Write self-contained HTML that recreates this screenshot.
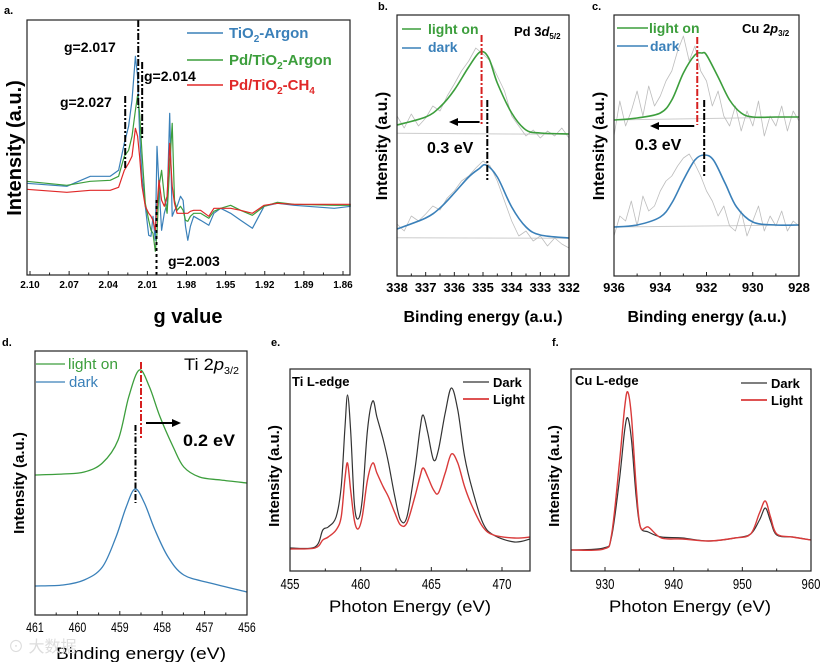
<!DOCTYPE html>
<html><head><meta charset="utf-8">
<style>
html,body{margin:0;padding:0;background:#fff;}
svg{display:block;font-family:"Liberation Sans",Arial,sans-serif;}
.b{font-weight:bold;}
</style></head>
<body>
<svg id="fig" width="822" height="662" viewBox="0 0 822 662" xmlns="http://www.w3.org/2000/svg">
<rect width="822" height="662" fill="#fff"/>
<!-- panel labels -->
<text x="4" y="14" font-size="11" class="b">a.</text>
<text x="378" y="10" font-size="11" class="b">b.</text>
<text x="592" y="10" font-size="11" class="b">c.</text>
<text x="2" y="346" font-size="11" class="b">d.</text>
<text x="271" y="346" font-size="11" class="b">e.</text>
<text x="552" y="346" font-size="11" class="b">f.</text>

<!-- axis titles -->
<text x="188" y="323" font-size="20" class="b" text-anchor="middle">g value</text>
<text transform="translate(21,148) rotate(-90)" font-size="20" class="b" text-anchor="middle">Intensity (a.u.)</text>
<text x="483" y="322" font-size="16" class="b" text-anchor="middle">Binding energy (a.u.)</text>
<text transform="translate(387,146) rotate(-90)" font-size="16" class="b" text-anchor="middle">Intensity (a.u.)</text>
<text x="707" y="322" font-size="16" class="b" text-anchor="middle">Binding energy (a.u.)</text>
<text transform="translate(604,146) rotate(-90)" font-size="16" class="b" text-anchor="middle">Intensity (a.u.)</text>
<text x="141" y="659" font-size="17" text-anchor="middle" textLength="170" lengthAdjust="spacingAndGlyphs">Binding energy (eV)</text>
<text transform="translate(24,483) rotate(-90)" font-size="15" class="b" text-anchor="middle">Intensity (a.u.)</text>
<text x="410" y="612" font-size="17" text-anchor="middle" textLength="162" lengthAdjust="spacingAndGlyphs">Photon Energy (eV)</text>
<text transform="translate(279,476) rotate(-90)" font-size="15" class="b" text-anchor="middle">Intensity (a.u.)</text>
<text x="690" y="612" font-size="17" text-anchor="middle" textLength="162" lengthAdjust="spacingAndGlyphs">Photon Energy (eV)</text>
<text transform="translate(559,476) rotate(-90)" font-size="15" class="b" text-anchor="middle">Intensity (a.u.)</text>

<!-- panel a annotations -->
<text x="64" y="52" font-size="14" class="b">g=2.017</text>
<text x="144" y="81" font-size="14" class="b">g=2.014</text>
<text x="60" y="107" font-size="14" class="b">g=2.027</text>
<text x="168" y="266" font-size="14" class="b">g=2.003</text>
<g font-size="15" class="b">
<line x1="187" y1="33" x2="223" y2="33" stroke="#3a80b9" stroke-width="1.5"/>
<text x="229" y="38" fill="#3a80b9">TiO<tspan font-size="10" dy="4">2</tspan><tspan dy="-4">-Argon</tspan></text>
<line x1="187" y1="60" x2="223" y2="60" stroke="#3c9e3c" stroke-width="1.5"/>
<text x="229" y="65" fill="#3c9e3c">Pd/TiO<tspan font-size="10" dy="4">2</tspan><tspan dy="-4">-Argon</tspan></text>
<line x1="187" y1="85" x2="223" y2="85" stroke="#e02828" stroke-width="1.5"/>
<text x="229" y="90" fill="#e02828">Pd/TiO<tspan font-size="10" dy="4">2</tspan><tspan dy="-4">-CH</tspan><tspan font-size="10" dy="4">4</tspan></text>
</g>
<!-- panel b annotations -->
<g font-size="14" class="b">
<line x1="402" y1="29" x2="421" y2="29" stroke="#3c9e3c" stroke-width="1.5"/>
<text x="428" y="34" fill="#3c9e3c">light on</text>
<line x1="402" y1="48" x2="421" y2="48" stroke="#3a80b9" stroke-width="1.5"/>
<text x="428" y="52" fill="#3a80b9">dark</text>
</g>
<text x="514" y="36" font-size="13" class="b">Pd 3<tspan font-style="italic">d</tspan><tspan font-size="8" dy="3">5/2</tspan></text>
<text x="427" y="153" font-size="16" class="b">0.3 eV</text>
<!-- panel c annotations -->
<g font-size="14" class="b">
<line x1="617" y1="28" x2="648" y2="28" stroke="#3c9e3c" stroke-width="1.5"/>
<text x="649" y="33" fill="#3c9e3c">light on</text>
<line x1="617" y1="46" x2="648" y2="46" stroke="#3a80b9" stroke-width="1.5"/>
<text x="650" y="51" fill="#3a80b9">dark</text>
</g>
<text x="742" y="33" font-size="13" class="b">Cu 2<tspan font-style="italic">p</tspan><tspan font-size="8" dy="3">3/2</tspan></text>
<text x="635" y="150" font-size="16" class="b">0.3 eV</text>
<!-- panel d annotations -->
<g font-size="15">
<line x1="36" y1="364" x2="65" y2="364" stroke="#3c9e3c" stroke-width="1.3"/>
<text x="68" y="369" fill="#3c9e3c" textLength="50" lengthAdjust="spacingAndGlyphs">light on</text>
<line x1="36" y1="382" x2="65" y2="382" stroke="#3a80b9" stroke-width="1.3"/>
<text x="69" y="387" fill="#3a80b9" textLength="29" lengthAdjust="spacingAndGlyphs">dark</text>
</g>
<text x="184" y="370" font-size="17" textLength="55" lengthAdjust="spacingAndGlyphs">Ti 2<tspan font-style="italic">p</tspan><tspan font-size="10" dy="4">3/2</tspan></text>
<text x="183" y="446" font-size="17" class="b" textLength="52" lengthAdjust="spacingAndGlyphs">0.2 eV</text>
<!-- panel e/f annotations -->
<text x="292" y="386" font-size="13" class="b">Ti L-edge</text>
<g font-size="13" class="b">
<line x1="463" y1="382" x2="489" y2="382" stroke="#333" stroke-width="1.3"/>
<text x="493" y="387">Dark</text>
<line x1="463" y1="399" x2="489" y2="399" stroke="#d93a3a" stroke-width="1.8"/>
<text x="493" y="404">Light</text>
</g>
<text x="575" y="385" font-size="13" class="b">Cu L-edge</text>
<g font-size="13" class="b">
<line x1="741" y1="383" x2="767" y2="383" stroke="#333" stroke-width="1.3"/>
<text x="771" y="388">Dark</text>
<line x1="741" y1="400" x2="767" y2="400" stroke="#d93a3a" stroke-width="1.8"/>
<text x="771" y="405">Light</text>
</g>
<text x="8" y="652" font-size="16" fill="#ddd" font-family="'Liberation Sans','Noto Sans CJK SC',sans-serif">⊙ 大数据</text>
</svg>
<script>
// ===== Panel a data (EPR) =====
const aG = [2.1026,2.0718,2.0538,2.0385,2.0321,2.0277,2.0244,2.0218,2.0192,2.0175,2.016,2.0141,2.0116,2.009,2.0072,2.0057,2.0039,2.0026,2.0011,1.9991,1.997,1.9949,1.9929,1.991,1.9892,1.9872,1.9846,1.9826,1.9808,1.979,1.977,1.9745,1.9692,1.9629,1.959,1.9538,1.9462,1.9385,1.9295,1.9205,1.9103,1.8975,1.8667,1.854];
const aTiO2Argon = [92,89,99,99,105,132,149,175,219,199,142,99,69,40,39,59,35,129,89,45,62,72,162,59,65,69,79,75,49,35,49,59,55,50,62,67,62,55,47,69,72,70,67,69];
const aPdTiO2Argon = [94,90,94,95,99,119,125,139,165,180,162,122,72,55,45,42,24,42,89,105,79,62,109,152,75,65,69,65,55,54,59,62,62,57,64,67,70,65,60,69,73,71,70,70];
const aPdTiO2CH4 = [86,83,85,85,88,105,112,119,147,139,119,89,69,62,59,55,45,69,95,75,69,79,132,89,72,62,62,62,62,62,64,65,65,59,67,67,67,65,62,70,72,71,71,71];
const aTicks = [2.10,2.07,2.04,2.01,1.98,1.95,1.92,1.89,1.86];
const aTickLabels = ["2.10","2.07","2.04","2.01","1.98","1.95","1.92","1.89","1.86"];
const aMarkers = [2.027,2.017,2.014,2.003];

// ===== Panel b data (Pd 3d5/2) =====
const bFitE = [338,337,336.5,336,335.5,335.1,334.8,334.5,334,333.5,333,332];
const bLightFit = [151,159,169,186,209,224,218,193,163,146,143,142];
const bDarkFit = [47,58,68,83,99,107,111,99,69,49,41,38];
const bDarkFitE = [338,337,336.5,336,335.5,335.15,334.9,334.5,334,333.5,333,332];
const bRawE = [338,337.75,337.5,337.25,337,336.75,336.5,336.25,336,335.75,335.5,335.25,335,334.75,334.5,334.25,334,333.75,333.5,333.25,333,332.75,332.5,332.25,332];
const bLightRaw = [160,148,162,150,158,170,165,180,192,205,215,228,222,215,200,185,160,150,140,146,138,145,140,148,138];
const bDarkRaw = [52,45,60,55,62,70,66,78,85,95,100,108,115,110,95,75,55,40,45,35,40,30,38,32,28];
const bTicks = [338,337,336,335,334,333,332];
const bShift = [335.05,334.85];

// ===== Panel c data (Cu 2p3/2) =====
const cFitE = [936,935,934,933.5,933,932.5,932.2,932,931.5,931,930.5,930,929,928];
const cLightFit = [156,158,163,176,203,221,223,221,199,176,163,159,159,159];
const cDarkFitE = [936,935,934,933.5,933,932.5,932.1,931.7,931.2,930.7,930,929,928];
const cDarkFit = [49,51,59,73,96,116,121,116,93,69,54,51,51];
const cRawE = [936,935.75,935.5,935.25,935,934.75,934.5,934.25,934,933.75,933.5,933.25,933,932.75,932.5,932.25,932,931.75,931.5,931.25,931,930.75,930.5,930.25,930,929.75,929.5,929.25,929,928.75,928.5,928.25,928];
const cLightRaw = [140,175,150,165,185,160,190,170,180,195,205,225,240,215,230,205,195,170,185,160,150,170,145,165,150,175,140,160,150,170,145,165,155];
const cDarkRaw = [40,60,55,75,50,80,65,70,85,95,100,110,118,122,112,100,85,75,60,70,50,45,65,40,55,70,45,60,50,65,45,55,50];
const cTicks = [936,934,932,930,928];
const cShift = [932.4,932.1];

// ===== Panel d data (Ti 2p3/2) =====
const dLightE = [461,460.34,459.84,459.41,459.04,458.79,458.54,458.3,458.05,457.74,457.49,457.12,456.62,456];
const dLight = [140,141,143,152,175,218,245,228,198,168,148,138,135,132];
const dDarkE = [461,460.34,459.84,459.41,459.09,458.85,458.64,458.42,458.17,457.86,457.49,456.87,456];
const dDark = [29,30,35,48,78,108,126,112,85,58,40,32,23];
const dTicks = [461,460,459,458,457,456];
const dShift = [458.5,458.63];

// ===== Panel e data (Ti L-edge XAS) =====
const eE = [455,456.77,457.32,457.7,458.26,458.62,458.88,459.07,459.29,459.55,459.81,460.11,460.48,460.85,461.15,461.6,461.97,462.42,462.82,463.27,463.83,464.19,464.42,464.75,465.16,465.5,465.98,466.42,466.87,467.36,467.91,468.65,469.4,470.88,472];
const eDark = [23,24,41,44,54,84,141,176,141,68,52,71,141,170,154,131,108,74,51,54,101,141,156,138,111,121,158,183,161,114,81,48,36,29,32];
const eLight = [22,23,31,34,41,54,91,108,81,51,42,54,91,108,98,84,74,58,46,48,74,94,103,94,81,78,98,117,108,84,64,44,36,33,34];
const eTicks = [455,460,465,470];

// ===== Panel f data (Cu L-edge XAS) =====
const fE = [925.07,929.81,930.95,932.1,932.87,933.32,933.86,934.54,935.15,936.3,938.2,941.27,945.09,948.91,951.2,952.5,953.35,954.1,955.02,957.32,960];
const fDark = [21,23,34,91,141,153,131,74,44,39,34,33,30,33,37,51,63,50,36,34,31];
const fLight = [21,22,36,108,164,179,154,84,44,44,33,32,30,33,37,58,70,54,37,34,31];
const fTicks = [930,940,950,960];

const NS = "http://www.w3.org/2000/svg";
const svg = document.getElementById('fig');
function lin(d0,d1,r0,r1){ return v => r0 + (v-d0)/(d1-d0)*(r1-r0); }
function el(tag, attrs){ const e = document.createElementNS(NS, tag); for (const k in attrs) e.setAttribute(k, attrs[k]); svg.appendChild(e); return e; }
function smoothPath(pts){
  let d = "M" + pts[0][0].toFixed(1) + "," + pts[0][1].toFixed(1);
  for (let i=0;i<pts.length-1;i++){
    const p0 = pts[Math.max(0,i-1)], p1 = pts[i], p2 = pts[i+1], p3 = pts[Math.min(pts.length-1,i+2)];
    const c1x = p1[0] + (p2[0]-p0[0])/6, c1y = p1[1] + (p2[1]-p0[1])/6;
    const c2x = p2[0] - (p3[0]-p1[0])/6, c2y = p2[1] - (p3[1]-p1[1])/6;
    d += " C" + c1x.toFixed(1)+","+c1y.toFixed(1)+" "+c2x.toFixed(1)+","+c2y.toFixed(1)+" "+p2[0].toFixed(1)+","+p2[1].toFixed(1);
  }
  return d;
}
function series(xs, ys, sx, sy, color, width, name, smooth){
  const pts = xs.map((x,i)=>[sx(x), sy(ys[i])]);
  const d = smooth ? smoothPath(pts) : "M" + pts.map(p=>p[0].toFixed(1)+","+p[1].toFixed(1)).join(" L");
  const p = el('path', {d:d, fill:'none', stroke:color, 'stroke-width':width, 'stroke-linejoin':'round'});
  
  
  return p;
}
function box(x0,y0,x1,y1,name){
  const r = el('rect', {x:x0, y:y0, width:x1-x0, height:y1-y0, fill:'none', stroke:'#222', 'stroke-width':1.2});
  
  
}
function xTicks(ticks, labels, sx, yb, fs, name, minor, condensed){
  ticks.forEach((t,i)=>{
    const x = sx(t);
    const tk = el('line', {x1:x, y1:yb, x2:x, y2:yb-4, stroke:'#222', 'stroke-width':1});
    
    
    const tx = el('text', {x:x, y:yb+fs+3, 'font-size':fs, 'text-anchor':'middle', 'font-weight': condensed ? 'normal' : 'bold'});
    if (condensed) { tx.setAttribute('textLength', labels[i].length*fs*0.42); tx.setAttribute('lengthAdjust','spacingAndGlyphs'); }
    tx.textContent = labels[i];
    
    
    if (minor && i < ticks.length-1){
      const xm = sx((t + ticks[i+1])/2);
      const mk = el('line', {x1:xm, y1:yb, x2:xm, y2:yb-2.5, stroke:'#222', 'stroke-width':1});
      
      
    }
  });
}
function vline(x, y0, y1, color, name, dash){
  const l = el('line', {x1:x, y1:y0, x2:x, y2:y1, stroke:color, 'stroke-width':2, 'stroke-dasharray':dash||'7,2,2,2'});
  
  
}
function arrow(x0, x1, y, name){
  const l = el('line', {x1:x0, y1:y, x2:x1 + (x1>x0?-6:6), y2:y, stroke:'#000', 'stroke-width':2});
  
  
  const dir = x1>x0 ? 1 : -1;
  const h = el('polygon', {points: x1+","+y+" "+(x1-dir*9)+","+(y-4)+" "+(x1-dir*9)+","+(y+4), fill:'#000'});
  
  
}
const BLUE='#3a80b9', GREEN='#3c9e3c', RED='#e02828', GRAY='#bdbdbd';

// ---- Panel a ----
{
  const sx = lin(2.10,1.86,30,343), sy = lin(0,255,275.3,20.3);
  series(aG, aTiO2Argon, sx, sy, BLUE, 1.2, 'a-series-tio2-argon');
  series(aG, aPdTiO2Argon, sx, sy, GREEN, 1.2, 'a-series-pd-tio2-argon');
  series(aG, aPdTiO2CH4, sx, sy, RED, 1.2, 'a-series-pd-tio2-ch4');
  vline(sx(aMarkers[0]), 96, 170, '#000', 'a-marker-g2027');
  vline(sx(aMarkers[1]), 20, 108, '#000', 'a-marker-g2017');
  vline(sx(aMarkers[2]), 62, 140, '#000', 'a-marker-g2014');
  vline(sx(aMarkers[3]), 200, 277, '#000', 'a-marker-g2003', '3,3');
  box(27,20,350,275,'a-plot-frame');
  xTicks(aTicks, aTickLabels, sx, 275, 10, 'a-x', true);
}
// ---- Panel b ----
{
  const sx = lin(338,332,397,569), sy = lin(0,261,276,15);
  const g1 = el('line',{x1:397,y1:sy(142.7),x2:569,y2:sy(141.7),stroke:'#ccc','stroke-width':1});  
  const g2 = el('line',{x1:397,y1:sy(38.3),x2:569,y2:sy(37.7),stroke:'#ccc','stroke-width':1});  
  series(bRawE, bLightRaw, sx, sy, GRAY, 0.8, 'b-light-raw');
  series(bRawE, bDarkRaw, sx, sy, GRAY, 0.8, 'b-dark-raw');
  series(bFitE, bLightFit, sx, sy, GREEN, 1.6, 'b-light-fit', true);
  series(bDarkFitE, bDarkFit, sx, sy, BLUE, 1.6, 'b-dark-fit', true);
  vline(sx(bShift[0]), sy(241), sy(151), '#d62020', 'b-light-peak-marker');
  vline(sx(bShift[1]), sy(176), sy(96), '#000', 'b-dark-peak-marker');
  arrow(sx(bShift[0])-2, 449, sy(154), 'b-shift-arrow');
  box(397,15,569,276,'b-plot-frame');
  xTicks(bTicks, bTicks.map(String), sx, 276, 13, 'b-x', true);
}
// ---- Panel c ----
{
  const sx = lin(936,928,614,799), sy = lin(0,261,276,15);
  const g1 = el('line',{x1:614,y1:sy(156),x2:799,y2:sy(159),stroke:'#ccc','stroke-width':1});  
  const g2 = el('line',{x1:614,y1:sy(49),x2:799,y2:sy(51),stroke:'#ccc','stroke-width':1});  
  series(cRawE, cLightRaw, sx, sy, GRAY, 0.8, 'c-light-raw');
  series(cRawE, cDarkRaw, sx, sy, GRAY, 0.8, 'c-dark-raw');
  series(cFitE, cLightFit, sx, sy, GREEN, 1.6, 'c-light-fit', true);
  series(cDarkFitE, cDarkFit, sx, sy, BLUE, 1.6, 'c-dark-fit', true);
  vline(sx(cShift[0]), sy(239), sy(151), '#d62020', 'c-light-peak-marker');
  vline(sx(cShift[1]), sy(176), sy(99), '#000', 'c-dark-peak-marker');
  arrow(sx(cShift[0])-3, 650, sy(150), 'c-shift-arrow');
  box(614,15,799,276,'c-plot-frame');
  xTicks(cTicks, cTicks.map(String), sx, 276, 13, 'c-x', true);
}
// ---- Panel d ----
{
  const sx = lin(461,456,35,247), sy = lin(0,264,615,351);
  series(dLightE, dLight, sx, sy, GREEN, 1.3, 'd-light-on', true);
  series(dDarkE, dDark, sx, sy, BLUE, 1.3, 'd-dark', true);
  vline(sx(dShift[0]), sy(253), sy(177), '#d62020', 'd-light-peak-marker');
  vline(sx(dShift[1]), sy(190), sy(112), '#000', 'd-dark-peak-marker', '6,2,1.5,2');
  arrow(146, 181, 423, 'd-shift-arrow');
  box(35,351,247,615,'d-plot-frame');
  xTicks(dTicks, dTicks.map(String), sx, 615, 14, 'd-x', true, true);
}
// ---- Panel e ----
{
  const sx = lin(455,470,290,502), sy = lin(0,202,571,369);
  series(eE, eDark, sx, sy, '#333', 1.2, 'e-dark', true);
  series(eE, eLight, sx, sy, '#d93a3a', 1.4, 'e-light', true);
  box(290,369,530,571,'e-plot-frame');
  xTicks(eTicks, eTicks.map(String), sx, 571, 15, 'e-x', true, true);
}
// ---- Panel f ----
{
  const sx = lin(930,960,605,811), sy = lin(0,202,571,369);
  series(fE, fDark, sx, sy, '#333', 1.2, 'f-dark', true);
  series(fE, fLight, sx, sy, '#d93a3a', 1.4, 'f-light', true);
  box(571,369,811,571,'f-plot-frame');
  xTicks(fTicks, fTicks.map(String), sx, 571, 15, 'f-x', true, true);
}
</script>
</body></html>
